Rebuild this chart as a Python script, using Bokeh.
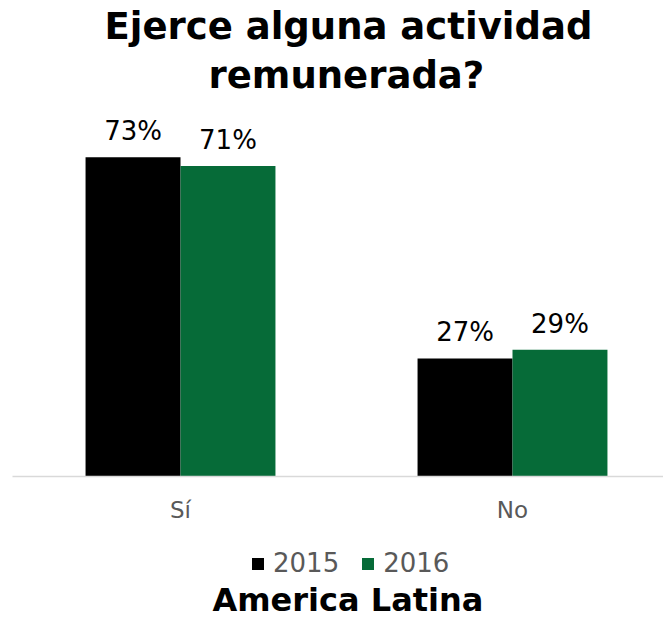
from bokeh.plotting import figure
from bokeh.layouts import column
from bokeh.models import ColumnDataSource, LabelSet, Range1d, FixedTicker, Title, Legend, LegendItem
from bokeh.core.properties import value
from bokeh.embed import file_html
from bokeh.resources import INLINE

categories = ["Sí", "No"]
years = ["2015", "2016"]
values_2015 = [73, 27]
values_2016 = [71, 29]
colors = ["#000000", "#066b38"]
title_lines = ["Ejerce alguna actividad", "remunerada?"]
caption = "America Latina"

FONT = "DejaVu Sans"
bar_w = 0.286
LEFT = 12
FW = 651
PX = 332.0
x0 = -(181 - 13) / PX

p = figure(frame_width=FW, frame_height=376, output_backend="svg", toolbar_location=None,
           x_range=Range1d(x0, x0 + FW / PX), y_range=Range1d(0, 86),
           min_border_left=LEFT, min_border_right=0, min_border_top=100, min_border_bottom=52)
p.outline_line_color = None
p.xgrid.visible = False
p.ygrid.visible = False
p.yaxis.visible = False

for k, (yr, vals, col) in enumerate(zip(years, [values_2015, values_2016], colors)):
    xs = [i + (k - 0.5) * bar_w for i in range(len(categories))]
    src = ColumnDataSource(dict(x=xs, top=vals, lab=[f"{v}%" for v in vals]))
    p.vbar(x="x", top="top", width=bar_w, bottom=0, source=src,
           fill_color=col, line_color=None)
    p.add_layout(LabelSet(x="x", y="top", text="lab", source=src, text_align="center",
                          text_baseline="alphabetic", y_offset=17,
                          text_font=value(FONT), text_font_size="26px", text_color="#000000"))

ax = p.xaxis[0]
ax.ticker = FixedTicker(ticks=list(range(len(categories))))
ax.major_label_overrides = {i: c for i, c in enumerate(categories)}
ax.major_tick_line_color = None
ax.minor_tick_line_color = None
ax.major_tick_out = 0
ax.major_tick_in = 0
ax.axis_line_color = "#d9d9d9"
ax.axis_line_width = 1.5
ax.major_label_text_font = FONT
ax.major_label_text_font_size = "23px"
ax.major_label_text_color = "#595959"
ax.major_label_standoff = 20

# title lines (last added is farthest from the frame)
p.add_layout(Title(text=title_lines[1], align="left", offset=196, text_font=FONT,
                   text_font_size="37px", text_font_style="bold", text_color="#000000",
                   standoff=8), "above")
p.add_layout(Title(text=title_lines[0], align="left", offset=92, text_font=FONT,
                   text_font_size="37px", text_font_style="bold", text_color="#000000",
                   standoff=0), "above")

# legend + caption figure
q = figure(width=LEFT + FW, height=90, output_backend="svg", toolbar_location=None,
           x_axis_type=None, y_axis_type=None, x_range=Range1d(10, 11), y_range=Range1d(0, 1),
           min_border_left=0, min_border_right=0, min_border_top=0, min_border_bottom=0)
q.outline_line_color = None
q.xgrid.visible = False
q.ygrid.visible = False
items = []
for yr, vals, col in zip(years, [values_2015, values_2016], colors):
    r = q.vbar(x=list(range(len(categories))), top=vals, width=bar_w,
               fill_color=col, line_color=None, visible=False)
    items.append(LegendItem(label=yr, renderers=[r]))
legend = Legend(items=items, orientation="horizontal", location=(238, 0),
                label_text_font=FONT, label_text_font_size="26px", label_text_color="#595959",
                glyph_width=15, glyph_height=15, label_standoff=8, spacing=21,
                border_line_color=None, background_fill_alpha=0, margin=0, padding=0)
q.add_layout(legend, "center")
q.title = Title(text=caption, align="left", offset=200, text_font=FONT,
                text_font_size="32px", text_font_style="bold", text_color="#000000",
                standoff=0)
q.title_location = "below"

layout = column(p, q, spacing=0)
open("out.html", "w").write(file_html(layout, INLINE))
